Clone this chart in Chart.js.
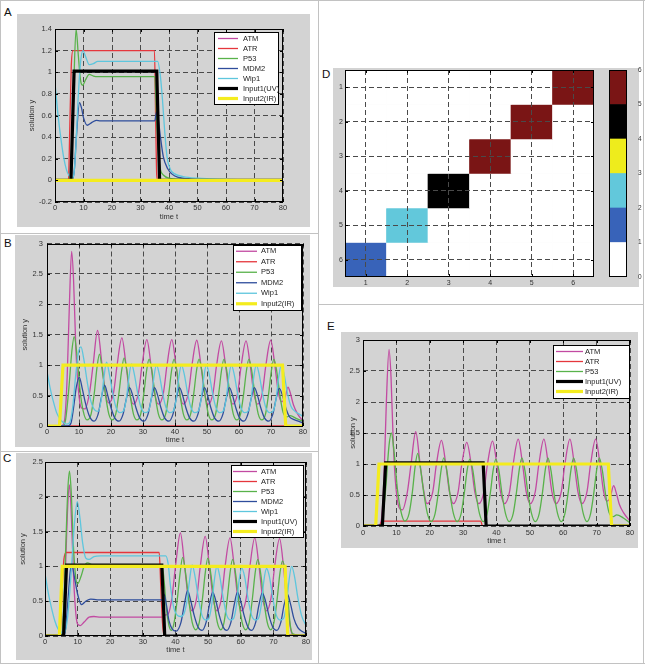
<!DOCTYPE html>
<html><head><meta charset="utf-8">
<script src="https://cdn.jsdelivr.net/npm/chart.js@4/dist/chart.umd.min.js"></script>
<style>
body{margin:0;background:#fff;width:645px;height:664px;position:relative;overflow:hidden;font-family:"Liberation Sans",Arial,sans-serif}
.box{position:absolute;background:#d3d3d3}
canvas{position:absolute}
.sep{position:absolute;background:#c2c2c2}
.lab{position:absolute;font-size:11.5px;line-height:11px;color:#111}
</style></head><body>
<div class="sep" style="left:0;top:0;width:645px;height:1px"></div>
<div class="sep" style="left:0;top:0;width:1px;height:664px"></div>
<div class="sep" style="left:643px;top:0;width:1px;height:664px"></div>
<div class="sep" style="left:0;top:663px;width:645px;height:1px"></div>
<div class="sep" style="left:318px;top:0;width:1px;height:664px"></div>
<div class="sep" style="left:0;top:233px;width:318px;height:1px"></div>
<div class="sep" style="left:0;top:451px;width:318px;height:1px"></div>
<div class="sep" style="left:318px;top:304px;width:326px;height:1px"></div>

<div class="box" style="left:17px;top:14px;width:293px;height:213px"></div>
<div class="box" style="left:15px;top:235px;width:295px;height:212px"></div>
<div class="box" style="left:16px;top:453px;width:296px;height:207px"></div>
<div class="box" style="left:333px;top:68px;width:306px;height:219px"></div>
<div class="box" style="left:341px;top:332px;width:297px;height:216px"></div>

<div class="lab" style="left:4px;top:7px">A</div>
<div class="lab" style="left:4px;top:238px">B</div>
<div class="lab" style="left:3px;top:453px">C</div>
<div class="lab" style="left:322px;top:69px">D</div>
<div class="lab" style="left:327px;top:321px">E</div>

<canvas id="cA" width="295" height="213" style="left:17px;top:14px"></canvas>
<canvas id="cB" width="295" height="212" style="left:15px;top:235px"></canvas>
<canvas id="cC" width="296" height="207" style="left:16px;top:453px"></canvas>
<canvas id="cD" width="267" height="235" style="left:333px;top:60px"></canvas>
<canvas id="cBar" width="45" height="240" style="left:600px;top:58px"></canvas>
<canvas id="cE" width="297" height="216" style="left:341px;top:332px"></canvas>

<script>
// ---------------- DATA ----------------
const seriesNames = ['ATM','ATR','P53','MDM2','Wip1','Input1(UV)','Input2(IR)'];
const timeTicks = [0,10,20,30,40,50,60,70,80];

// Panel A  (UV only)  [time, value]
const aATM = [[0,0],[80,0]];
const aATR = [[0,0],[4.7,0],[5.2,0.5],[5.7,1.05],[6.3,1.2],[34.9,1.2],[35.3,0.6],[35.7,0.05],[36.1,0],[80,0]];
const aP53 = [[0,0],[5,0],[5.8,0.2],[6.5,0.8],[7.4,1.4],[8.2,1.15],[9,0.92],[9.7,0.88],[10.7,0.93],[12,0.98],[13.5,0.965],[15,0.96],[35,0.96],[35.6,0.6],[36.3,0.25],[37,0.1],[38,0.05],[40,0.02],[45,0.01],[80,0]];
const aMDM2 = [[0,0],[6,0],[6.8,0.1],[7.5,0.4],[8.6,0.72],[9.3,0.67],[10,0.58],[11.3,0.51],[12.6,0.53],[14.5,0.555],[16,0.55],[35,0.55],[35.6,0.63],[36.3,0.55],[37,0.4],[38,0.22],[39.5,0.11],[41,0.06],[43,0.03],[47,0.015],[55,0.005],[80,0]];
const aWip1 = [[0,0.9],[1,0.62],[2,0.4],[3,0.22],[4,0.1],[5,0.04],[6,0.02],[6.6,0.05],[7.3,0.3],[8.1,0.75],[9,1.1],[9.8,1.2],[10.8,1.14],[12,1.07],[13.5,1.08],[15,1.1],[36,1.1],[36.9,0.98],[37.7,0.75],[38.5,0.45],[39.3,0.22],[40.5,0.1],[42,0.06],[45,0.035],[50,0.02],[60,0.01],[80,0]];
const aUV = [[0,0],[5.6,0],[6.7,1.01],[35.7,1.01],[36.7,0],[80,0]];
const aIR = [[0,0],[80,0]];

// Panel B  (IR only)
const bATM = [[0,0],[4.5,0],[5.5,0.1],[6.3,0.8],[7,2.0],[7.7,2.87],[8.3,2.4],[9,1.3],[9.8,0.6],[10.7,0.3],[11.8,0.28],
 [13.3,0.55],[14.4,1.0],[15.8,1.57],[17.1,1.05],[18.1,0.6],[19.2,0.38],
 [20.8,0.55],[21.9,1.0],[23.4,1.45],[24.7,1.0],[25.8,0.55],[27,0.36],
 [28.6,0.55],[29.7,1.0],[31.2,1.42],[32.5,1.0],[33.6,0.55],[34.8,0.36],
 [36.4,0.55],[37.5,1.0],[39,1.42],[40.3,1.0],[41.4,0.55],[42.6,0.36],
 [44.2,0.55],[45.3,1.0],[46.8,1.41],[48.1,1.0],[49.2,0.55],[50.4,0.36],
 [51.9,0.55],[53,1.0],[54.5,1.4],[55.8,1.0],[56.9,0.55],[58.1,0.36],
 [59.6,0.55],[60.7,1.0],[62.2,1.4],[63.5,1.0],[64.6,0.55],[65.8,0.36],
 [67.3,0.55],[68.4,1.0],[69.9,1.41],[71.2,1.0],[72.3,0.55],[73.3,0.4],
 [74.3,0.45],[75.3,0.64],[76,0.55],[77,0.35],[78.3,0.2],[80,0.08]];
const bATR = [[0,0],[80,0]];
const bP53 = [[0,0],[5,0],[5.8,0.1],[6.8,0.6],[7.8,1.25],[8.5,1.47],[9.3,1.2],[10.3,0.6],[11.3,0.25],[12.5,0.1],
 [13.8,0.2],[14.8,0.55],[15.6,0.95],[16.4,1.18],[17.3,0.9],[18.3,0.5],[19.3,0.2],[20.4,0.1],
 [21.5,0.2],[22.5,0.55],[23.3,0.9],[24.1,1.12],[25,0.9],[26,0.5],[27,0.2],[28.1,0.1],
 [29.3,0.2],[30.3,0.55],[31.1,0.9],[31.9,1.1],[32.8,0.9],[33.8,0.5],[34.8,0.2],[35.9,0.1],
 [37.1,0.2],[38.1,0.55],[38.9,0.9],[39.7,1.1],[40.6,0.9],[41.6,0.5],[42.6,0.2],[43.7,0.1],
 [44.9,0.2],[45.9,0.55],[46.7,0.9],[47.5,1.1],[48.4,0.9],[49.4,0.5],[50.4,0.2],[51.5,0.1],
 [52.7,0.2],[53.7,0.55],[54.5,0.9],[55.3,1.1],[56.2,0.9],[57.2,0.5],[58.2,0.2],[59.3,0.1],
 [60.5,0.2],[61.5,0.55],[62.3,0.9],[63.1,1.1],[64,0.9],[65,0.5],[66,0.2],[67.1,0.1],
 [68.3,0.2],[69.3,0.55],[70.1,0.9],[70.9,1.1],[71.8,0.9],[72.8,0.5],[73.8,0.22],
 [75,0.15],[76,0.17],[78,0.12],[80,0.08]];
const bMDM2 = [[0,0],[6.5,0],[7.5,0.05],[8.3,0.3],[9.2,0.65],[10.1,0.8],[11,0.62],[12,0.38],[13.2,0.17],
 [14.7,0.08],[16,0.2],[17,0.47],[18,0.67],[19,0.5],[20,0.3],[21.2,0.13],
 [22.5,0.08],[23.8,0.2],[24.8,0.45],[25.8,0.63],[26.8,0.5],[27.8,0.3],[29,0.13],
 [30.3,0.08],[31.6,0.2],[32.6,0.45],[33.6,0.63],[34.6,0.5],[35.6,0.3],[36.8,0.13],
 [38.1,0.08],[39.4,0.2],[40.4,0.45],[41.4,0.63],[42.4,0.5],[43.4,0.3],[44.6,0.13],
 [45.9,0.08],[47.2,0.2],[48.2,0.45],[49.2,0.63],[50.2,0.5],[51.2,0.3],[52.4,0.13],
 [53.7,0.08],[55,0.2],[56,0.45],[57,0.63],[58,0.5],[59,0.3],[60.2,0.13],
 [61.5,0.08],[62.8,0.2],[63.8,0.45],[64.8,0.63],[65.8,0.5],[66.8,0.3],[68,0.13],
 [69.3,0.08],[70.6,0.2],[71.6,0.45],[72.6,0.62],[73.6,0.5],[74.6,0.3],[75.8,0.15],
 [77,0.11],[78.5,0.08],[80,0.05]];
const bWip1 = [[0,0.9],[1,0.62],[2,0.4],[3,0.22],[4,0.12],[5,0.06],[6,0.03],[7,0.05],[8,0.3],[9,0.85],[9.8,1.2],[10.6,1.3],[11.5,1.1],[12.5,0.75],[13.5,0.45],[14.8,0.27],[16,0.24],
 [17,0.45],[17.8,0.8],[18.6,1.05],[19.5,0.85],[20.5,0.55],[21.6,0.3],[22.8,0.22],
 [23.9,0.25],[24.8,0.45],[25.6,0.8],[26.4,1.02],[27.3,0.85],[28.3,0.55],[29.4,0.3],[30.6,0.22],
 [31.7,0.25],[32.6,0.45],[33.4,0.8],[34.2,1.0],[35.1,0.85],[36.1,0.55],[37.2,0.3],[38.4,0.22],
 [39.5,0.25],[40.4,0.45],[41.2,0.8],[42,1.0],[42.9,0.85],[43.9,0.55],[45,0.3],[46.2,0.22],
 [47.3,0.25],[48.2,0.45],[49,0.8],[49.8,1.0],[50.7,0.85],[51.7,0.55],[52.8,0.3],[54,0.22],
 [55.1,0.25],[56,0.45],[56.8,0.8],[57.6,1.0],[58.5,0.85],[59.5,0.55],[60.6,0.3],[61.8,0.22],
 [62.9,0.25],[63.8,0.45],[64.6,0.8],[65.4,1.0],[66.3,0.85],[67.3,0.55],[68.4,0.3],[69.6,0.22],
 [70.7,0.25],[71.6,0.45],[72.4,0.8],[73.2,1.0],[74.1,0.85],[75.1,0.55],[76.2,0.33],[77.5,0.24],[79,0.19],[80,0.16]];
const bIR = [[0,0],[3.9,0],[5,1],[73.6,1],[74.6,0],[80,0]];

// Panel C  (UV + IR)
const cATM = [[0,0],[5,0],[5.6,0.2],[6.3,1.0],[7,1.9],[7.5,2.17],[8.1,1.7],[8.8,0.8],[9.5,0.3],[10,0.17],[10.8,0.15],[12,0.2],[13.5,0.27],[15,0.28],[17,0.27],[36,0.27],[36.8,0.3],[37.8,0.32],
 [38.9,0.55],[40,1.0],[41.5,1.48],[42.8,1.0],[43.9,0.55],[45.1,0.36],
 [46.5,0.55],[47.6,1.0],[49.1,1.43],[50.4,1.0],[51.5,0.55],[52.7,0.36],
 [54.1,0.55],[55.2,1.0],[56.7,1.41],[58,1.0],[59.1,0.55],[60.3,0.36],
 [61.7,0.55],[62.8,1.0],[64.3,1.41],[65.6,1.0],[66.7,0.55],[67.9,0.36],
 [69.3,0.55],[70.4,1.0],[71.9,1.4],[73.1,1.0],[74,0.55],[74.7,0.3],[75.3,0.1],[76,0.02],[80,0]];
const cATR = [[0,0],[4.6,0],[5.2,0.6],[5.8,1.1],[6.5,1.2],[35,1.2],[35.5,0.7],[36,0.2],[36.5,0],[80,0]];
const cP53 = [[0,0],[5,0],[5.6,0.3],[6.3,1.2],[7,2.1],[7.5,2.37],[8,2.1],[8.7,1.3],[9.4,0.85],[10,0.75],[11,0.85],[12,1.0],[13,1.05],[14.5,1.02],[16,1.0],[36,1.0],[36.5,0.8],[37.2,0.4],[38,0.15],[38.8,0.08],
 [39.6,0.2],[40.6,0.55],[41.4,0.9],[42.2,1.13],[43.1,0.9],[44.1,0.5],[45.1,0.2],[46.2,0.09],
 [47.3,0.2],[48.3,0.55],[49.1,0.9],[49.9,1.12],[50.8,0.9],[51.8,0.5],[52.8,0.2],[53.9,0.09],
 [54.9,0.2],[55.9,0.55],[56.7,0.9],[57.5,1.1],[58.4,0.9],[59.4,0.5],[60.4,0.2],[61.5,0.09],
 [62.6,0.2],[63.6,0.55],[64.4,0.9],[65.2,1.1],[66.1,0.9],[67.1,0.5],[68.1,0.2],[69.2,0.09],
 [70.2,0.2],[71.2,0.55],[72,0.9],[72.8,1.08],[73.7,0.9],[74.5,0.5],[75.2,0.15],[76,0.03],[80,0]];
const cMDM2 = [[0,0],[5.5,0],[6.3,0.1],[7,0.5],[7.8,0.95],[8.3,1.0],[9,0.85],[10,0.6],[11.2,0.45],[12.5,0.5],[14,0.53],[16,0.52],[36,0.52],[36.5,0.6],[37.2,0.45],[38,0.22],[39,0.1],[40.2,0.07],
 [41.7,0.2],[42.7,0.45],[43.7,0.65],[44.7,0.5],[45.7,0.3],[46.9,0.13],
 [48.1,0.08],[49.4,0.2],[50.4,0.45],[51.4,0.63],[52.4,0.5],[53.4,0.3],[54.6,0.13],
 [55.7,0.08],[57,0.2],[58,0.45],[59,0.63],[60,0.5],[61,0.3],[62.2,0.13],
 [63.3,0.08],[64.6,0.2],[65.6,0.45],[66.6,0.62],[67.6,0.5],[68.6,0.3],[69.8,0.13],
 [71,0.08],[72.3,0.2],[73.3,0.45],[74.3,0.6],[75.3,0.45],[76.3,0.25],[77.5,0.12],[79,0.06],[80,0.04]];
const cWip1 = [[0,0.9],[1,0.62],[2,0.4],[3,0.22],[4,0.1],[5,0.05],[6,0.05],[7,0.3],[8,0.9],[9,1.6],[9.9,1.93],[10.7,1.7],[11.5,1.35],[12.5,1.12],[13.5,1.1],[15,1.14],[17,1.15],[37,1.15],[37.7,1.05],[38.5,0.7],[39.5,0.4],[40.5,0.3],[41.5,0.28],
 [42.6,0.32],[43.5,0.5],[44.3,0.8],[45.1,1.02],[46,0.85],[47,0.55],[48.1,0.3],[49.3,0.23],
 [50.2,0.25],[51.1,0.45],[51.9,0.8],[52.7,1.0],[53.6,0.85],[54.6,0.55],[55.7,0.3],[56.9,0.23],
 [57.8,0.25],[58.7,0.45],[59.5,0.8],[60.3,0.98],[61.2,0.85],[62.2,0.55],[63.3,0.3],[64.5,0.23],
 [65.4,0.25],[66.3,0.45],[67.1,0.8],[67.9,0.97],[68.8,0.85],[69.8,0.55],[70.9,0.3],[72.1,0.23],
 [73.1,0.25],[74,0.45],[74.8,0.8],[75.6,1.0],[76.5,0.85],[77.5,0.55],[78.6,0.3],[80,0.15]];
const cUV = [[0,0],[5.7,0],[6.6,1.02],[35.8,1.02],[36.7,0],[80,0]];
const cIR = [[0,0],[4.4,0],[5.3,1],[73.6,1],[74.4,0],[80,0]];

// Panel D  (heat map)
const heatCols = ['1','2','3','4','5','6'];
const heatRows = [1,2,3,4,5,6];
const heatMatrix = [
  [0,0,0,0,0,5],
  [0,0,0,0,5,0],
  [0,0,0,5,0,0],
  [0,0,4,0,0,0],
  [0,2,0,0,0,0],
  [1,0,0,0,0,0]];
const colorLevels = [0,1,2,3,4,5,6];
const colormap = ['#ffffff','#3863b9','#62c8db','#eeec1c','#000000','#7a1515'];

// Panel E
const eATM = [[0,0],[4.5,0],[5.5,0.1],[6.3,0.8],[7,2.0],[7.8,2.85],[8.4,2.4],[9.1,1.3],[9.9,0.6],[10.8,0.3],[11.8,0.26],
 [13.3,0.55],[14.4,1.0],[15.8,1.52],[17.1,1.0],[18.1,0.6],[19.2,0.36],
 [20.9,0.55],[22,1.0],[23.5,1.38],[24.8,1.0],[25.9,0.55],[27.1,0.36],
 [28.5,0.55],[29.6,1.0],[31.1,1.35],[32.4,1.0],[33.5,0.55],[34.7,0.36],
 [36.2,0.55],[37.3,1.0],[38.8,1.37],[40.1,1.0],[41.2,0.55],[42.4,0.36],
 [43.9,0.55],[45,1.0],[46.5,1.4],[47.8,1.0],[48.9,0.55],[50.1,0.36],
 [51.6,0.55],[52.7,1.0],[54.2,1.4],[55.5,1.0],[56.6,0.55],[57.8,0.36],
 [59.4,0.55],[60.5,1.0],[62,1.4],[63.3,1.0],[64.4,0.55],[65.6,0.36],
 [67.1,0.55],[68.2,1.0],[69.7,1.4],[71,1.0],[72.1,0.55],[73.1,0.4],
 [74,0.45],[75.1,0.65],[75.8,0.55],[76.8,0.35],[78,0.22],[80,0.08]];
const eATR = [[0,0],[5,0],[5.7,0.08],[35.3,0.08],[35.8,0],[80,0]];
const eP53 = [[0,0],[5,0],[5.8,0.1],[6.8,0.6],[7.8,1.3],[8.5,1.5],[9.3,1.2],[10.3,0.6],[11.3,0.25],[12.5,0.08],
 [13.8,0.2],[14.8,0.55],[15.6,0.95],[16.4,1.17],[17.3,0.9],[18.3,0.5],[19.3,0.2],[20.4,0.07],
 [21.6,0.2],[22.6,0.55],[23.4,0.9],[24.2,1.1],[25.1,0.9],[26.1,0.5],[27.1,0.2],[28.2,0.07],
 [29.4,0.2],[30.4,0.55],[31.2,0.9],[32,1.08],[32.9,0.9],[33.9,0.5],[34.9,0.2],[36,0.07],
 [37.2,0.2],[38.2,0.55],[39,0.9],[39.8,1.08],[40.7,0.9],[41.7,0.5],[42.7,0.2],[43.8,0.07],
 [45,0.2],[46,0.55],[46.8,0.9],[47.6,1.1],[48.5,0.9],[49.5,0.5],[50.5,0.2],[51.6,0.07],
 [52.8,0.2],[53.8,0.55],[54.6,0.9],[55.4,1.1],[56.3,0.9],[57.3,0.5],[58.3,0.2],[59.4,0.07],
 [60.5,0.2],[61.5,0.55],[62.3,0.9],[63.1,1.1],[64,0.9],[65,0.5],[66,0.2],[67.1,0.07],
 [68.2,0.2],[69.2,0.55],[70,0.9],[70.8,1.1],[71.7,0.9],[72.7,0.5],[73.7,0.22],
 [75,0.15],[76,0.18],[78,0.13],[80,0.05]];
const eUV = [[0,0],[5.8,0],[6.8,1.02],[36,1.02],[36.9,0],[80,0]];
const eIR = [[0,0],[3.8,0],[4.8,1],[73.5,1],[74.5,0],[80,0]];

// ---------------- STYLE / RENDER ----------------
const COL = {ATM:'#c24aa2', ATR:'#e5363c', P53:'#58b24a', MDM2:'#2e4d9c', Wip1:'#5ec6dd', UV:'#000000', IR:'#f4ec1e'};
const FAM = '"Liberation Sans", Arial, Helvetica, sans-serif';
const FONT = {family: FAM, size: 7.5};
const TC = '#333';
const GC = '#4a4a4a';
const DASH = [5, 3];
const fmt = v => String(+(+v).toFixed(2));

const deco = {
  id: 'deco',
  afterDraw(chart, args, o) {
    const ctx = chart.ctx, a = chart.chartArea;
    ctx.save();
    ctx.setLineDash([]);
    ctx.strokeStyle = '#000';
    ctx.lineWidth = 1;
    if (o.ticks !== false) {
      ctx.beginPath();
      Object.values(chart.scales).forEach(s => {
        if (s.options.display === false) return;
        s.ticks.forEach((t, i) => {
          const p = Math.round(s.getPixelForTick(i)) + 0.5;
          if (s.isHorizontal()) {
            ctx.moveTo(p, a.bottom); ctx.lineTo(p, a.bottom - 3);
            ctx.moveTo(p, a.top); ctx.lineTo(p, a.top + 3);
          } else {
            ctx.moveTo(a.left, p); ctx.lineTo(a.left + 3, p);
            ctx.moveTo(a.right, p); ctx.lineTo(a.right - 3, p);
          }
        });
      });
      ctx.stroke();
    }
    ctx.strokeRect(Math.round(a.left) + 0.5, Math.round(a.top) + 0.5,
                   Math.round(a.right - a.left) - 1, Math.round(a.bottom - a.top) - 1);
    const L = o.legend;
    if (L) {
      ctx.fillStyle = '#fff';
      ctx.fillRect(L.x, L.y, L.w, L.h);
      ctx.strokeRect(L.x + 0.5, L.y + 0.5, L.w, L.h);
      ctx.font = '7.5px ' + FAM;
      ctx.textBaseline = 'middle';
      ctx.textAlign = 'left';
      chart.data.datasets.forEach((d, i) => {
        const y = L.y + L.pad + L.step * (i + 0.5);
        ctx.strokeStyle = d.borderColor;
        ctx.lineWidth = d.borderWidth;
        ctx.beginPath(); ctx.moveTo(L.x + L.l1, y); ctx.lineTo(L.x + L.l2, y); ctx.stroke();
        ctx.fillStyle = '#222';
        ctx.fillText(d.label, L.x + L.tx, y);
      });
    }
    ctx.restore();
  }
};

function lineChart(id, sets, c) {
  return new Chart(document.getElementById(id), {
    type: 'line',
    data: {datasets: sets.map((s, i) => ({
      label: s.label,
      data: s.pts.map(p => ({x: p[0], y: p[1]})),
      borderColor: s.color, backgroundColor: s.color,
      borderWidth: s.w, order: sets.length - i,
      cubicInterpolationMode: s.step ? 'default' : 'monotone', tension: 0,
      pointRadius: 0, fill: false
    }))},
    options: {
      responsive: false, animation: false, events: [],
      layout: {padding: c.pad},
      scales: {
        x: {type: 'linear', min: 0, max: 80,
            afterBuildTicks: s => { s.ticks = timeTicks.map(v => ({value: v})); },
            ticks: {font: FONT, color: TC, padding: c.xtp, maxRotation: 0, autoSkip: false, callback: fmt},
            grid: {color: GC, lineWidth: 1, drawTicks: false},
            border: {display: false, dash: DASH},
            title: {display: true, text: 'time t', font: FONT, color: TC, padding: {top: 0, bottom: c.xtl}},
            afterFit: s => { s.height = c.xh; }},
        y: {type: 'linear', min: c.ymin, max: c.ymax,
            ticks: {stepSize: c.ystep, font: FONT, color: TC, padding: c.ytp, autoSkip: false, callback: fmt},
            grid: {color: GC, lineWidth: 1, drawTicks: false},
            border: {display: false, dash: DASH},
            title: {display: true, text: 'solution y', font: FONT, color: TC, padding: {top: c.ytl, bottom: 0}},
            afterFit: s => { s.width = c.yw; }}
      },
      plugins: {legend: {display: false}, tooltip: {enabled: false}, deco: {legend: c.legend}}
    },
    plugins: [deco]
  });
}

const S = (label, pts, color, w, step) => ({label, pts, color, w, step});

lineChart('cA', [
  S(seriesNames[0], aATM, COL.ATM, 1.3), S(seriesNames[1], aATR, COL.ATR, 1.3),
  S(seriesNames[2], aP53, COL.P53, 1.3), S(seriesNames[3], aMDM2, COL.MDM2, 1.3),
  S(seriesNames[4], aWip1, COL.Wip1, 1.3), S(seriesNames[5], aUV, COL.UV, 3.2, true),
  S(seriesNames[6], aIR, COL.IR, 3.2, true)
], {pad: {left: 0, top: 15, right: 29, bottom: 0}, yw: 38, xh: 25, ymin: -0.2, ymax: 1.4, ystep: 0.2,
    xtp: 1, xtl: 5.5, ytp: 3, ytl: 10.5,
    legend: {x: 197, y: 18, w: 64, h: 72, pad: 1.5, step: 10, l1: 4, l2: 24, tx: 29}});

lineChart('cB', [
  S(seriesNames[0], bATM, COL.ATM, 1.3), S(seriesNames[1], bATR, COL.ATR, 1.3),
  S(seriesNames[2], bP53, COL.P53, 1.3), S(seriesNames[3], bMDM2, COL.MDM2, 1.3),
  S(seriesNames[4], bWip1, COL.Wip1, 1.3), S(seriesNames[6], bIR, COL.IR, 3.2, true)
], {pad: {left: 0, top: 7, right: 7, bottom: 0}, yw: 32, xh: 21, ymin: 0, ymax: 3, ystep: 0.5,
    xtp: 1.5, xtl: 2.5, ytp: 4, ytl: 5.5,
    legend: {x: 218, y: 10, w: 68, h: 65, pad: 1, step: 10.5, l1: 3, l2: 24, tx: 28}});

lineChart('cC', [
  S(seriesNames[0], cATM, COL.ATM, 1.3), S(seriesNames[1], cATR, COL.ATR, 1.3),
  S(seriesNames[2], cP53, COL.P53, 1.3), S(seriesNames[3], cMDM2, COL.MDM2, 1.3),
  S(seriesNames[4], cWip1, COL.Wip1, 1.3), S(seriesNames[5], cUV, COL.UV, 3.2, true),
  S(seriesNames[6], cIR, COL.IR, 3.2, true)
], {pad: {left: 0, top: 9, right: 6, bottom: 0}, yw: 29, xh: 24, ymin: 0, ymax: 2.5, ystep: 0.5,
    xtp: 1.5, xtl: 5.5, ytp: 2, ytl: 2.5,
    legend: {x: 215, y: 12, w: 72, h: 72, pad: 1.5, step: 10, l1: 2, l2: 26, tx: 30}});

lineChart('cE', [
  S(seriesNames[0], eATM, COL.ATM, 1.3), S(seriesNames[1], eATR, COL.ATR, 1.3),
  S(seriesNames[2], eP53, COL.P53, 1.3), S(seriesNames[5], eUV, COL.UV, 3.2, true),
  S(seriesNames[6], eIR, COL.IR, 3.2, true)
], {pad: {left: 0, top: 8, right: 8, bottom: 0}, yw: 22, xh: 22, ymin: 0, ymax: 3, ystep: 0.5,
    xtp: 2, xtl: 2.5, ytp: 3, ytl: 7.5,
    legend: {x: 212, y: 13, w: 76, h: 53, pad: 1.5, step: 10, l1: 3, l2: 30, tx: 32}});

// Heat map D
const SMALL = {family: FAM, size: 7};
new Chart(document.getElementById('cD'), {
  type: 'bar',
  data: {labels: heatCols, datasets: heatMatrix.map((row, r) => ({
    data: row.map(() => [heatRows[r] - 0.5, heatRows[r] + 0.5]),
    backgroundColor: row.map(v => colormap[v]),
    grouped: false, barPercentage: 1, categoryPercentage: 1, borderWidth: 0
  }))},
  options: {
    responsive: false, animation: false, events: [],
    layout: {padding: {left: 0, top: 10, right: 6, bottom: 8}},
    scales: {
      x: {type: 'category', offset: true,
          grid: {offset: false, color: GC, drawTicks: false, z: 1},
          border: {display: false, dash: DASH},
          ticks: {font: SMALL, color: TC, padding: 2},
          afterFit: s => { s.height = 10; }},
      y: {type: 'linear', reverse: true, min: 0.5, max: 6.5,
          afterBuildTicks: s => { s.ticks = heatRows.map(v => ({value: v})); },
          grid: {color: GC, drawTicks: false, z: 1},
          border: {display: false, dash: DASH},
          ticks: {font: SMALL, color: TC, padding: 2, callback: fmt},
          afterFit: s => { s.width = 12; }}
    },
    plugins: {legend: {display: false}, tooltip: {enabled: false}, deco: {}}
  },
  plugins: [deco]
});

// Colour bar
new Chart(document.getElementById('cBar'), {
  type: 'bar',
  data: {labels: [''], datasets: colormap.map((c, i) => ({
    data: [[colorLevels[i], colorLevels[i + 1]]], backgroundColor: c,
    grouped: false, barPercentage: 1, categoryPercentage: 1, borderWidth: 0
  }))},
  options: {
    responsive: false, animation: false, events: [],
    layout: {padding: {left: 9, top: 12, right: 0, bottom: 21}},
    scales: {
      x: {display: false},
      y: {position: 'right', min: 0, max: 6,
          ticks: {stepSize: 1, font: {family: FAM, size: 6.5}, color: TC, padding: 3, callback: fmt},
          grid: {display: false}, border: {display: false},
          afterFit: s => { s.width = 18; }}
    },
    plugins: {legend: {display: false}, tooltip: {enabled: false}, deco: {ticks: false}}
  },
  plugins: [deco]
});
</script>
</body></html>
